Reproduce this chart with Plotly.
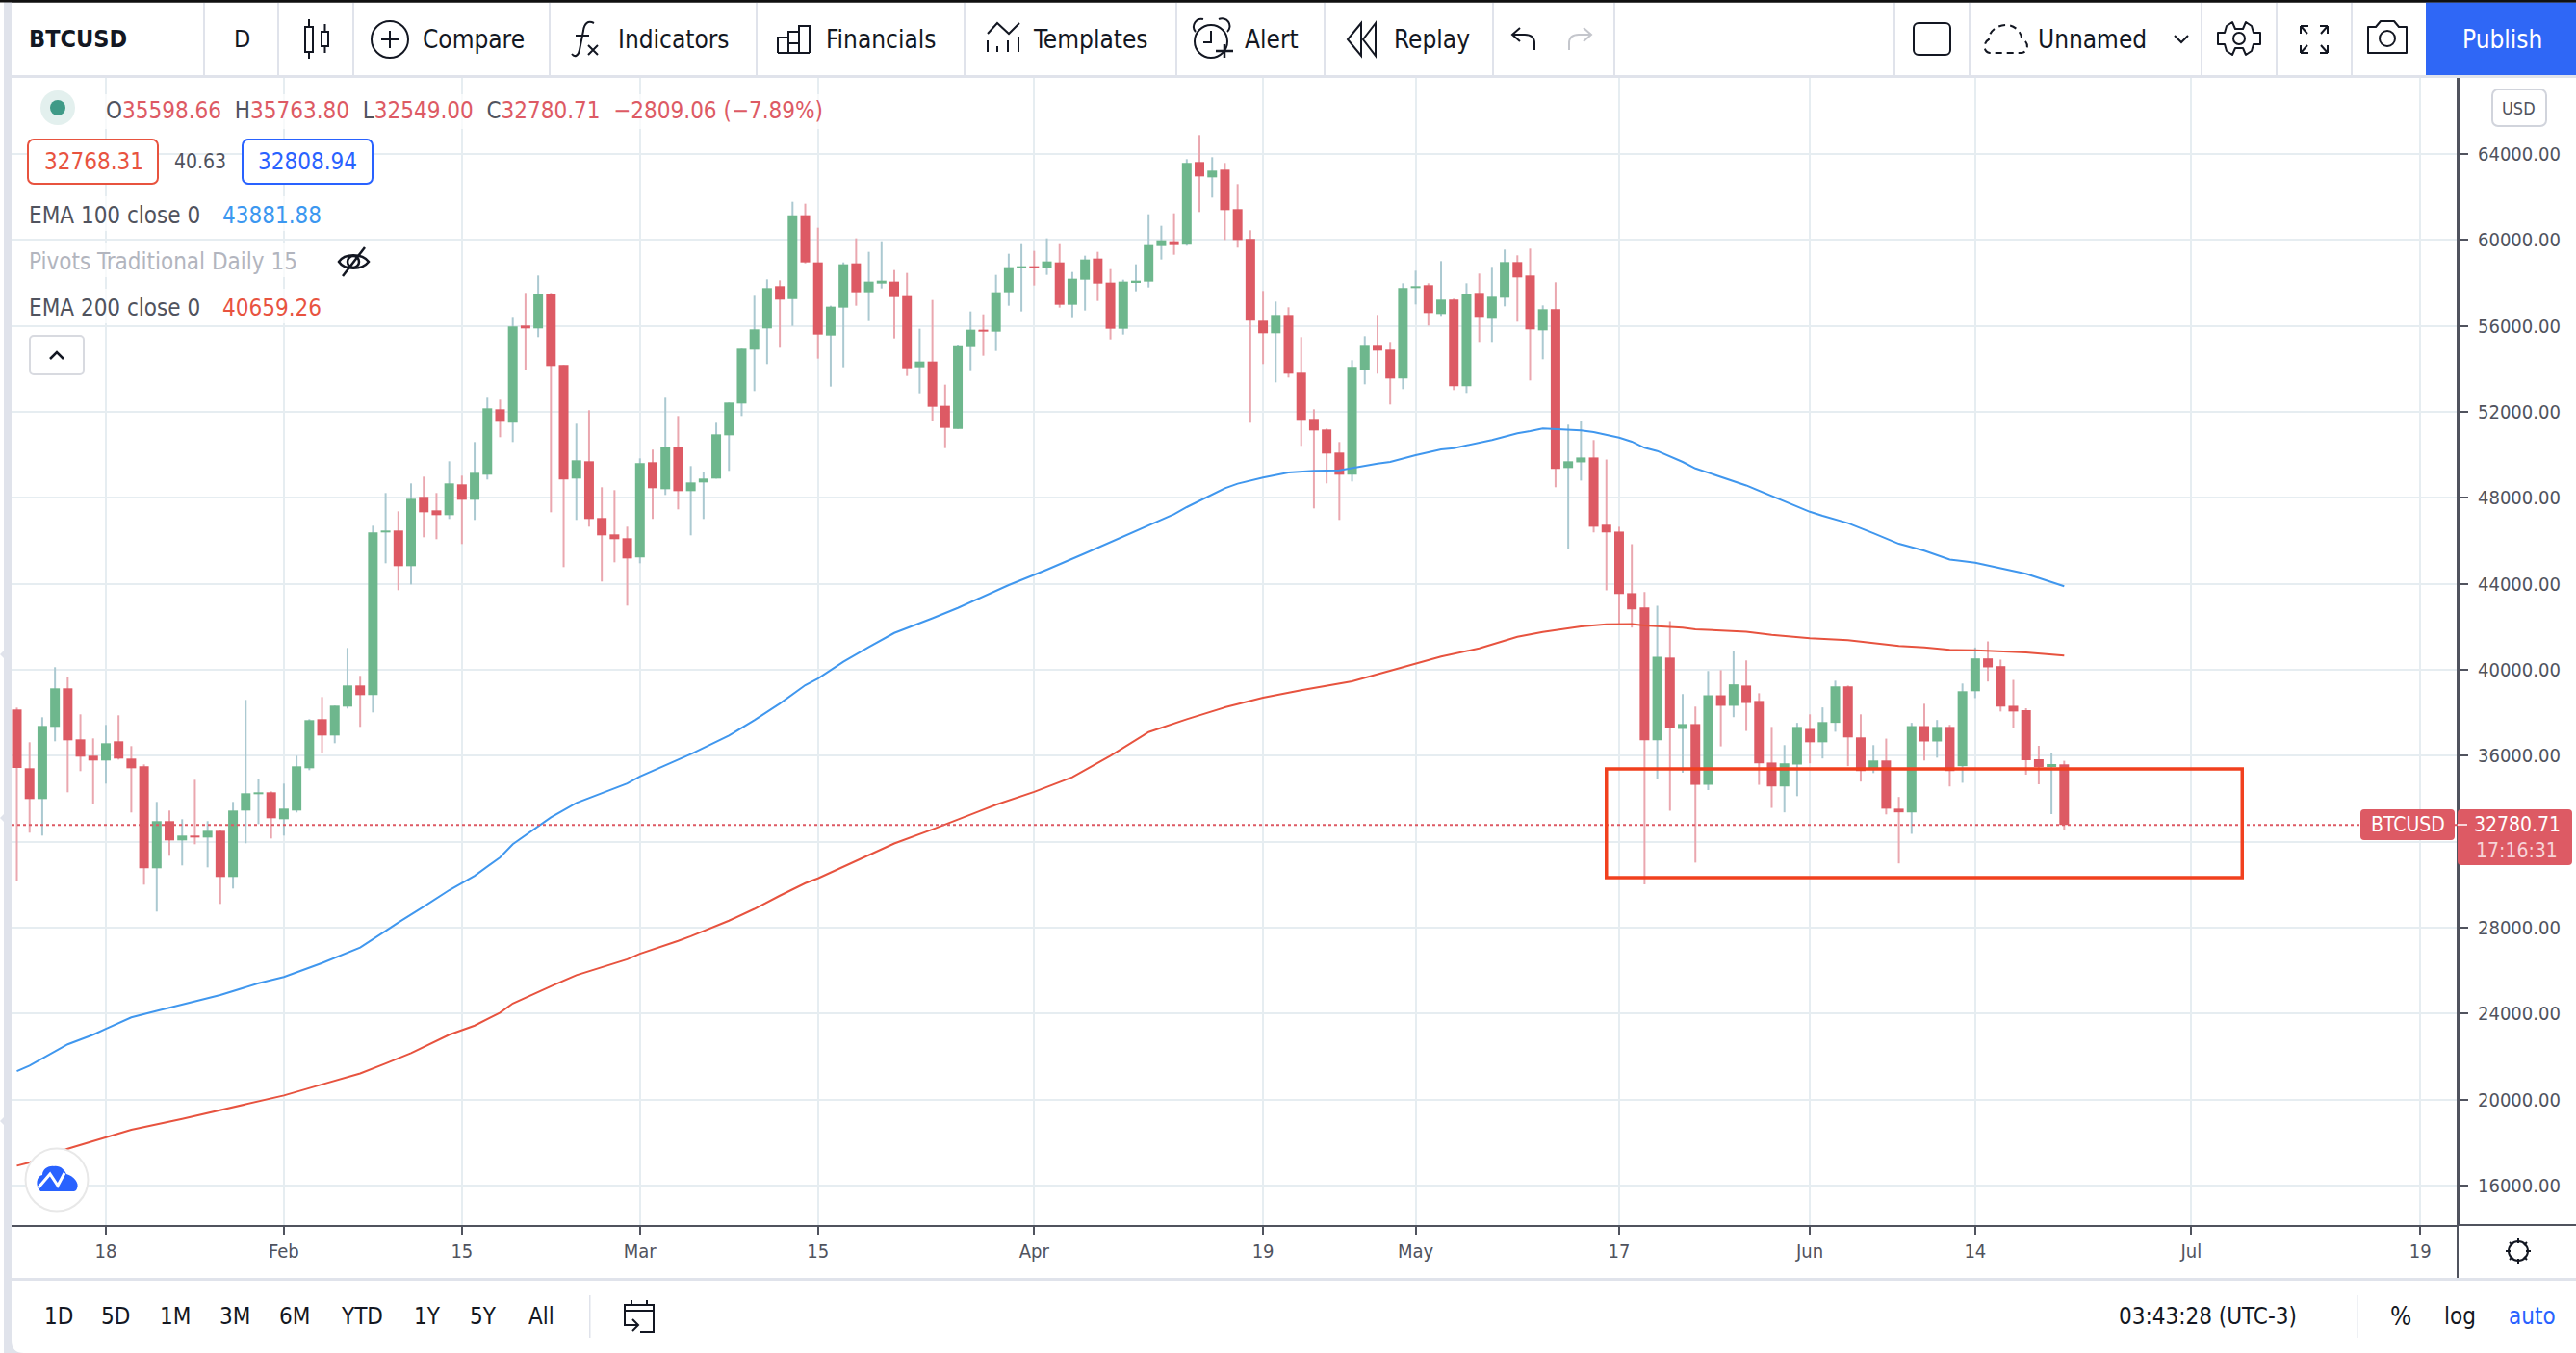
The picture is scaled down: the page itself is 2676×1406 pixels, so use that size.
import base64
import pandas as pd
import plotly.graph_objects as go

W, H = 2676, 1406

# ---------- chart data (daily BTCUSD candles) ----------
FIRST_DAY = "2021-01-11"
DIRECTION = ("RRGGRRRGRR" "RGRGRGRGGG" "RGGGRGGRGG" "RGRRGRGGRG" "RGRRGRRRRG"
             "RGRGGGGGGG" "RGRRGGRGGR" "RGRRGGRGGG" "RGRGGRRGGG" "GRGRGRRRRG"
             "RRRRRGGRRG" "GRGRGRGGRR" "GRGGRRRRRG" "RGRGRGRRRG" "GRGGRRGRRG"
             "RGRGGRRRRR" "GR")
HIGH = [38239,36627,37791,40120,39672,37926,36806,37433,37881,36448,
        35597,33851,33448,33045,34881,32956,32553,33851,38597,34925,
        34343,34702,36000,37702,38731,38329,41015,39717,46701,48224,
        47373,48672,48985,48224,49701,49030,50597,52657,52567,56418,
        57537,58343,57537,54179,51448,52075,48493,48358,46657,49836,
        50239,52657,51806,49478,49209,51492,52433,54940,57403,58164,
        58119,61776,61687,60567,56940,58955,60075,59448,59940,58597,
        58463,55866,57209,53269,55104,56672,56537,58373,59358,59806,
        59493,60075,59806,58507,59269,59448,58642,58149,58866,61194,
        60657,61239,63761,64881,63851,63582,62597,60448,57627,57134,
        56866,55478,52119,51224,50597,54403,55522,56507,55254,57985,
        58567,57985,59015,57269,57985,58433,58746,59552,59284,59597,
        56955,58030,51404,51574,50688,49783,46654,45844,43619,42978,
        42262,38869,38285,39943,39981,40886,40434,38907,37342,36494,
        37531,37926,38247,39491,39265,37926,36494,36796,34081,37531,
        38417,37663,37437,39359,41037,41320,40471,39529,38209,36463,
        36105,35763.80]
BODY_TOP = [38150,35418,37388,39135,39135,36761,36000,36582,36672,35866,
            35508,32956,32956,32284,32284,32508,32508,33448,34254,34299,
            34299,33538,35508,37657,37702,38329,39269,39269,46388,46478,
            46478,47955,48045,47418,48672,48627,49164,52164,52119,55970,
            56015,57492,57492,54179,49746,49701,47060,46299,46119,49612,
            49657,50373,50373,48716,48896,50955,52433,54940,55836,57761,
            57851,61149,61149,58955,56896,58866,58910,58060,58104,58060,
            57388,54343,54343,52284,55060,55821,55821,57567,58731,58776,
            58776,59000,58955,58194,59090,59134,58015,58060,58104,59761,
            59985,59940,63582,63627,63224,63269,61433,60045,56239,56507,
            56507,53821,51672,51179,50105,54090,55075,55075,54896,57761,
            57851,57896,57224,57224,57493,57537,57358,58970,58970,58343,
            56776,56776,49701,49877,49877,46748,46428,43563,42903,40603,
            40566,37474,37474,38812,38812,39321,39265,38549,35683,35646,
            37342,37248,37568,39227,39227,36852,35778,35778,33535,37380,
            37380,37342,37342,39001,40528,40528,40170,38322,38119,35836,
            35612,35598.66]
BODY_BOTTOM = [35433,33985,33985,37344,36717,35956,35777,35777,35866,35418,
               30762,30762,32060,32060,32194,32194,30359,30359,33448,34209,
               33090,33045,33448,35418,36940,36940,38284,38821,38821,46388,
               44821,44821,47328,47194,47194,47910,47910,49075,51537,51492,
               55881,55881,54134,48851,48896,47015,46254,46075,45179,45224,
               48448,48403,48313,48313,48716,48896,50910,52388,54895,55881,
               57224,57254,58955,55597,55552,56851,57567,57567,57970,57343,
               54030,54075,52239,51254,51209,55015,55731,55731,57567,58687,
               58687,58687,56985,56985,58149,57970,55866,55866,58015,58060,
               59716,59761,59776,62955,62910,61388,60000,56239,55657,55657,
               53776,51627,51134,50060,49075,49075,53955,54851,53552,53552,
               57761,56597,56552,53194,53194,56418,56373,57313,58254,55836,
               55791,49350,49388,49651,46654,46390,43525,42809,36720,36720,
               37304,37248,34647,34647,38322,38322,38454,35646,34571,34571,
               35589,36626,36626,37531,36852,35288,35363,33535,33365,33365,
               36664,36664,35288,35514,39001,40113,38285,38058,35791,35478,
               35478,32780.71]
LOW = [30180,32419,32284,36672,34299,35284,33762,34702,35821,33359,
       30000,28747,31344,30896,31881,30806,29105,29821,31926,32821,
       32149,32284,33359,35328,36135,36582,38194,37344,38015,44955,
       43702,43970,46164,46075,47015,45851,46970,48851,50821,50597,
       53955,55478,47328,44776,46970,46657,44105,45000,42985,44955,
       47015,48134,47463,46254,47015,48896,49254,51806,52970,54224,
       54985,56000,58910,54478,53179,54075,56940,56224,57746,55418,
       53672,52866,51567,50313,51209,53896,54612,54836,56940,56672,
       57881,58373,56851,56403,56716,57164,55373,55597,57612,57791,
       59090,59313,59731,61299,61970,60000,59642,51493,54224,53373,
       53597,50418,47508,48672,46970,48761,53284,53776,52343,53060,
       57000,56015,56463,53015,52881,55254,55254,56910,56194,53463,
       54448,48493,45636,48803,46390,43695,42074,41960,30010,34929,
       33440,35212,31027,34402,36437,37795,37154,34647,33572,33365,
       34119,35646,35872,37116,35514,34797,35193,33270,30990,32366,
       35778,35909,34571,34741,38680,39453,38058,37304,35120,34672,
       33284,32549]

EMA100_BAR = [0,1,4,6,7,9,11,13,15,16,19,21,24,27,29,30,32,34,36,38,39,42,44,48,49,53,56,58,60,62,63,65,67,69,72,74,
              78,81,84,88,90,91,92,94,95,96,98,100,102,104,106,107,108,110,112,113,116,118,119,120,123,124,126,
              127,128,129,131,132,136,141,142,144,146,148,150,151,152,154,158,161]
EMA100 = [21322,21579,22572,23017,23291,23822,24130,24438,24746,24866,25414,25705,26355,27074,27845,28239,28975,29745,
          30413,31269,31885,33135,33803,34710,35035,36080,36936,37655,38425,39281,39589,40377,41061,41712,42397,42876,
          43940,44657,45418,46448,46956,47239,47567,48164,48448,48657,48941,49179,49254,49284,49508,49597,49672,49985,
          50254,50314,50687,51000,51105,51224,51134,51060,50801,
          50613,50330,50179,49670,49368,48577,47352,47163,46824,46352,45862,45542,45335,45127,44976,44467,43881.88]
EMA200_BAR = [0,1,4,7,9,13,16,19,21,24,27,29,31,34,36,38,39,42,44,48,49,52,53,56,58,60,62,63,66,69,72,74,
              77,80,83,86,89,92,95,98,101,105,108,112,115,118,120,123,125,127,128,131,132,136,138,141,144,146,148,150,152,154,158,161]
EMA200 = [16922,17076,17710,18258,18600,19096,19507,19952,20192,20706,21219,21682,22161,23017,23445,24044,24472,25277,
          25790,26527,26783,27383,27605,28324,28872,29488,30070,30293,31098,31919,32570,33032,
          33720,34320,35000,36000,37100,37700,38250,38700,39050,39466,39950,40612,41000,41530,41753,42017,42111,42130,
          42055,41960,41885,41772,41621,41470,41376,41244,41112,41037,40924,40905,40811,40659.26]

LAST_CLOSE = 32780.71
PRICE_TICKS = list(range(16000, 64001, 4000))
DATE_TICKS = ["2021-01-18","2021-02-01","2021-02-15","2021-03-01","2021-03-15","2021-04-01","2021-04-19",
              "2021-05-01","2021-05-17","2021-06-01","2021-06-14","2021-07-01","2021-07-19"]
DATE_LABELS = ["18","Feb","15","Mar","15","Apr","19","May","17","Jun","14","Jul","19"]
BOX_DATES = ["2021-05-16", "2021-07-05"]
BOX_PRICES = [30330, 35388]
X_RANGE = ["2021-01-10 14:00", "2021-07-21 22:30"]
Y_RANGE = [14164, 67537]

# ---------- style ----------
FONT = "DejaVu Sans Condensed, DejaVu Sans, sans-serif"
GREEN, RED = "#6EB78D", "#DD5A64"
GREEN_W, RED_W = "#ABC9D1", "#EAA7AF"
GRID = "#E6EDF1"
AXIS = "#50535E"
INK = "#131722"
DAY_MS = 86400000
PX_PER_DAY = 13.21

dates = pd.date_range(FIRST_DAY, periods=len(HIGH), freq="D")
up = [d == "G" for d in DIRECTION]

fig = go.Figure()
fig.add_bar(x=dates, y=[h - l for h, l in zip(HIGH, LOW)], base=LOW,
            width=2 / PX_PER_DAY * DAY_MS,
            marker=dict(color=[GREEN_W if u else RED_W for u in up], line_width=0), hoverinfo="skip")
fig.add_bar(x=dates, y=[max(t - b, 60) for t, b in zip(BODY_TOP, BODY_BOTTOM)], base=BODY_BOTTOM,
            width=10 / PX_PER_DAY * DAY_MS,
            marker=dict(color=[GREEN if u else RED for u in up], line_width=0), hoverinfo="skip")
fig.add_scatter(x=dates[EMA100_BAR], y=EMA100, mode="lines", line=dict(color="#4097EE", width=2), hoverinfo="skip")
fig.add_scatter(x=dates[EMA200_BAR], y=EMA200, mode="lines", line=dict(color="#E7533F", width=2), hoverinfo="skip")

fig.add_shape(type="line", xref="paper", yref="y", x0=12 / W, x1=2553 / W, y0=LAST_CLOSE, y1=LAST_CLOSE,
              line=dict(color=RED, width=2, dash="3px,3px"), layer="above")
fig.add_shape(type="rect", xref="x", yref="y", x0=BOX_DATES[0], x1=BOX_DATES[1], y0=BOX_PRICES[0], y1=BOX_PRICES[1],
              line=dict(color="#F1401E", width=3.5), layer="above")

annotations = []
def txt(x, y, s, size=24, color=INK, anchor="left"):
    annotations.append(dict(xref="paper", yref="paper", x=x / W, y=1 - y / H, text=s, showarrow=False,
                            xanchor=anchor, yanchor="middle", borderpad=0, borderwidth=0,
                            font=dict(family=FONT, size=size, color=color)))

# toolbar
txt(30, 41, "<b>BTCUSD</b>", 25)
txt(251, 41, "D", 25, anchor="center")
txt(439, 41, "Compare", 26)
txt(642, 41, "Indicators", 26)
txt(858, 41, "Financials", 26)
txt(1073, 41, "Templates", 26)
txt(1293, 41, "Alert", 26)
txt(1448, 41, "Replay", 26)
txt(2117, 41, "Unnamed", 26)
txt(2599, 41, "Publish", 26, "#FFFFFF", "center")
# legend
gr, rd = "#50535E", "#DD5A64"
txt(110, 115, f'<span style="color:{gr}">O</span>35598.66  <span style="color:{gr}">H</span>35763.80  '
              f'<span style="color:{gr}">L</span>32549.00  <span style="color:{gr}">C</span>32780.71  −2809.06 (−7.89%)',
    24, rd)
txt(97, 168, "32768.31", 24, "#E8533F", "center")
txt(208, 168, "40.63", 21, "#50535E", "center")
txt(319, 168, "32808.94", 24, "#2962FF", "center")
txt(30, 224, "EMA 100 close 0", 24, "#50535E")
txt(231, 224, "43881.88", 24, "#3B97F0")
txt(30, 272, "Pivots Traditional Daily 15", 24, "#B2B5BE")
txt(30, 320, "EMA 200 close 0", 24, "#50535E")
txt(231, 320, "40659.26", 24, "#E8533F")
# price axis extras
txt(2616, 112, "USD", 18, "#50535E", "center")
txt(2501, 857, "BTCUSD", 21, "#FFFFFF", "center")
txt(2615, 857, "32780.71", 21, "#FFFFFF", "center")
txt(2614, 884, "17:16:31", 21, "#F7D5D8", "center")
# footer
for lab, cx in zip(["1D","5D","1M","3M","6M","YTD","1Y","5Y","All"], [60.6,120,182,244,306,376,444,502.5,562]):
    txt(cx, 1368, lab, 24, INK, "center")
txt(2201, 1368, "03:43:28 (UTC-3)", 24)
txt(2494, 1368, "%", 26, INK, "center")
txt(2555, 1368, "log", 24, INK, "center")
txt(2630, 1368, "auto", 24, "#2962FF", "center")

separators = [212, 289, 367, 571, 786, 1002, 1222, 1376, 1551, 1677, 1968, 2046, 2287, 2365, 2443]
seps = "".join(f'<rect x="{x-1}" y="3" width="2" height="76" fill="#E0E3EB"/>' for x in separators)

OVERLAY = f'''<svg xmlns="http://www.w3.org/2000/svg" width="{W}" height="{H}" viewBox="0 0 {W} {H}">
<rect x="0" y="0" width="{W}" height="80" fill="#fff"/>
<rect x="0" y="0" width="{W}" height="2.5" fill="#111"/>
<rect x="0" y="78" width="{W}" height="3" fill="#E0E3EB"/>
{seps}
<rect x="2520" y="2.5" width="156" height="75.5" fill="#2F67F6"/>
<rect x="554" y="0" width="0" height="0"/>
<rect x="12" y="1274" width="2541" height="0" fill="none"/>
<rect x="0" y="1330" width="{W}" height="76" fill="#fff"/>
<rect x="2554" y="1274" width="122" height="56" fill="#fff"/>
<rect x="12" y="1328" width="{W}" height="3" fill="#E0E3EB"/>
<rect x="2552" y="1272" width="124" height="2" fill="#50535E"/>
<rect x="2552" y="81" width="2" height="1247" fill="#50535E"/>
<rect x="4" y="0" width="8" height="1406" fill="#E0E3EB"/>
<rect x="0" y="0" width="4" height="1406" fill="#fff"/>
<rect x="0" y="0" width="{W}" height="2.5" fill="#111"/>
<path d="M12 1393 Q12 1406 25 1406 L12 1406 Z" fill="#E0E3EB"/>
<path d="M0 680 L4 676 L12 680 L4 684 Z M0 850 L4 846 L12 850 L4 854 Z M0 1165 L4 1161 L12 1165 L4 1169 Z" fill="#E0E3EB"/>
<g fill="#fff" fill-opacity="0.72"><rect x="14" y="98" width="860" height="36"/><rect x="14" y="204" width="390" height="36"/><rect x="14" y="252" width="390" height="36"/><rect x="14" y="300" width="350" height="36"/></g>

<!-- toolbar icons -->
<g fill="none" stroke="#131722" stroke-width="2">
<rect x="317" y="28" width="8" height="26"/><path d="M321 20V28M321 54V61"/>
<rect x="334" y="33" width="7" height="15"/><path d="M337.500 25V33M337.500 48V55"/>
<circle cx="405" cy="41" r="19"/><path d="M405 32V50M396 41H414"/>
<path d="M617 24C611 21 607 24 606 32L602 52C601 58 597 60 594 56M598 37H612" /><path d="M611 47L621 57M621 47L611 57"/>
<path d="M808 55V39H819V55M819 55V33H830V55M830 55V27H841V55M808 55H841M819 45H830"/>
<path d="M1026 35L1036 24L1048 35L1059 24"/><path d="M1026 54V42M1036 54V48M1047 54V42M1058 54V38" />
<circle cx="1258" cy="43" r="17"/><path d="M1250 20A8 8 0 0 0 1242 33M1266 20A8 8 0 0 1 1275 33M1258 32V44H1250"/>
<path d="M1272 46V60M1263 53H1281" stroke-width="2.500"/>
<path d="M1414 24L1400 41L1414 58ZM1429 24L1416 41L1429 58Z"/>
<path d="M1594 52V45C1594 38 1590 36 1584 36H1572M1579 29L1571 36L1579 43"/>
<path d="M1630 52V45C1630 38 1634 36 1640 36H1652M1645 29L1653 36L1645 43" stroke="#C4C6CC"/>
<rect x="1988" y="24" width="38" height="33" rx="5"/>
<path d="M2067 55C2060 54 2060 44 2066 41C2066 32 2076 25 2086 26C2094 27 2100 34 2100 40C2108 43 2108 54 2100 55Z" stroke-dasharray="7,5"/>
<path d="M2259 37L2266 44L2273 37"/>
<path d="M2304 34L2311 34L2313 27L2319 23L2322 30H2330L2333 23L2339 27L2341 34L2348 34V46L2341 46L2339 53L2333 57L2330 50H2322L2319 57L2313 53L2311 46L2304 46Z" stroke-linejoin="round"/><circle cx="2326" cy="40" r="6"/>
<path d="M2390 27H2398M2390 27V35M2390 27L2397 35M2418 27H2410M2418 27V35M2418 27L2411 35M2390 55H2398M2390 55V47M2390 55L2397 47M2418 55H2410M2418 55V47M2418 55L2411 47"/>
<path d="M2460 28H2468L2473 22H2487L2492 28H2500V55H2460Z" stroke-linejoin="round"/><circle cx="2480" cy="40" r="8"/>
</g>

<!-- legend widgets -->
<ellipse cx="60" cy="112" rx="18" ry="18" fill="#E3F0EE"/><circle cx="60" cy="112" r="8" fill="#3F9A87"/>
<rect x="29" y="145" width="135" height="46" rx="6" fill="#fff" stroke="#E8533F" stroke-width="2"/>
<rect x="252" y="145" width="135" height="46" rx="6" fill="#fff" stroke="#2962FF" stroke-width="2"/>
<rect x="31" y="349" width="56" height="40" rx="4" fill="#fff" stroke="#D8DAE0" stroke-width="2"/>
<path d="M52 373L59 366L66 373" fill="none" stroke="#131722" stroke-width="2.500"/>
<g fill="none" stroke="#131722" stroke-width="2.500">
<path d="M352 272C358 263 376 263 383 272C376 281 358 281 352 272Z"/><circle cx="367" cy="272" r="6"/><path d="M356 287L379 257"/>
</g>
<rect x="2589" y="93" width="56" height="38" rx="6" fill="#fff" stroke="#D1D4DC" stroke-width="2"/>
<!-- price label -->
<rect x="2452" y="841" width="98" height="32" rx="4" fill="#DD5A64"/>
<rect x="2553" y="841" width="119" height="58" rx="4" fill="#DD5A64"/>
<rect x="2553" y="856" width="10" height="2" fill="#F7D5D8"/>
<!-- logo -->
<circle cx="59" cy="1226" r="32.500" fill="#fff" stroke="#E8E8E8" stroke-width="2"/>
<path d="M42 1238C36 1232 38 1222 44 1221C44 1214 52 1211 56 1212C63 1211 67 1216 69 1220C76 1222 83 1229 80 1235C79 1238 77 1238 76 1238Z" fill="#2962FF"/>
<path d="M40 1234L52 1220L60 1232L67 1219" fill="none" stroke="#fff" stroke-width="3"/>
<!-- footer icons -->
<rect x="612" y="1346" width="1.500" height="44" fill="#E0E3EB"/>
<rect x="2448" y="1346" width="1.500" height="44" fill="#E0E3EB"/>
<g fill="none" stroke="#131722" stroke-width="2">
<path d="M649 1378V1356H679V1384H665M649 1362H679M656 1351V1356M672 1351V1356M648 1377H662M657 1371L663 1377L657 1383"/>
<circle cx="2616" cy="1300" r="10"/>
<path d="M2616 1287V1292M2616 1308V1313M2603 1300H2608M2624 1300H2629M2607 1291L2610 1294M2622 1306L2625 1309M2625 1291L2622 1294M2610 1306L2607 1309"/>
</g>
</svg>'''
overlay_uri = "data:image/svg+xml;base64," + base64.b64encode(OVERLAY.encode()).decode()

fig.update_layout(
    width=W, height=H, margin=dict(l=0, r=0, t=0, b=0), autosize=False,
    paper_bgcolor="#FFFFFF", plot_bgcolor="#FFFFFF", showlegend=False, barmode="overlay",
    annotations=annotations,
    images=[dict(source=overlay_uri, xref="paper", yref="paper", x=0, y=1, sizex=1, sizey=1,
                 xanchor="left", yanchor="top", sizing="stretch", layer="above")],
    xaxis=dict(domain=[12 / W, 2553 / W], type="date", range=X_RANGE, tickmode="array",
               tickvals=DATE_TICKS, ticktext=DATE_LABELS, showgrid=True, gridcolor=GRID, gridwidth=2,
               showline=True, linecolor=AXIS, linewidth=2, ticks="outside", ticklen=8, tickcolor=AXIS, tickwidth=2,
               tickfont=dict(family=FONT, size=20, color=AXIS), zeroline=False, anchor="y", fixedrange=True),
    yaxis=dict(domain=[(H - 1273) / H, (H - 81) / H], range=Y_RANGE, side="right", tickmode="array",
               tickvals=PRICE_TICKS, ticktext=[f"{v:.2f}" for v in PRICE_TICKS], showgrid=True, gridcolor=GRID, gridwidth=2,
               showline=True, linecolor=AXIS, linewidth=2, ticks="outside", ticklen=9, tickcolor=AXIS, tickwidth=2,
               ticklabelstandoff=6, tickfont=dict(family=FONT, size=20, color=AXIS), zeroline=False, anchor="x", fixedrange=True),
)
fig.write_html("out.html", post_script="document.body.style.margin='0';document.documentElement.style.overflow='hidden';",
               config=dict(displayModeBar=False))
